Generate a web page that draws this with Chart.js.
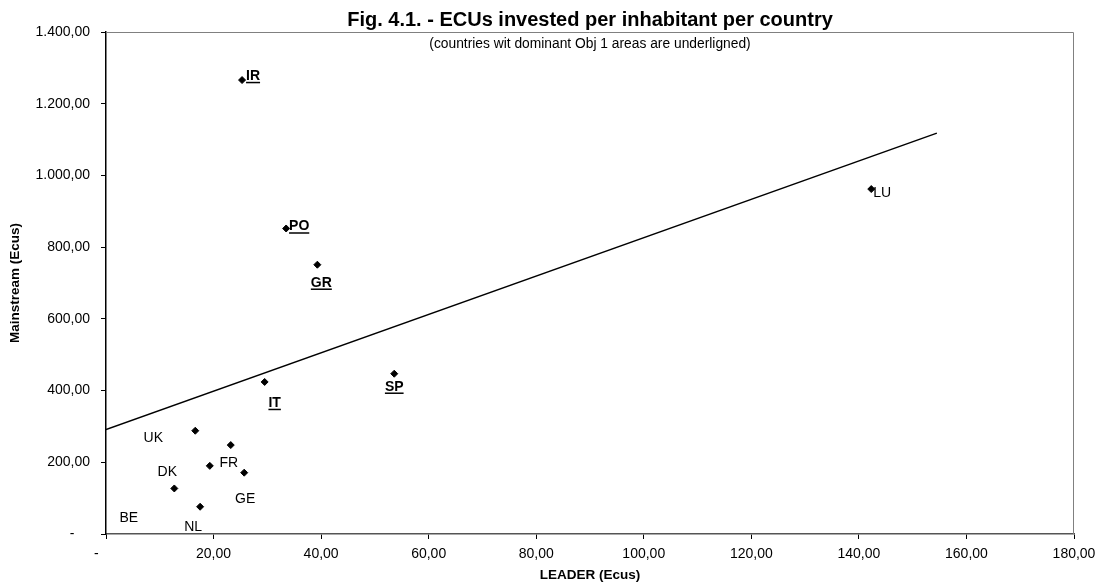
<!DOCTYPE html>
<html lang="en">
<head>
  <meta charset="UTF-8">
  <title>Fig. 4.1. - ECUs invested per inhabitant per country</title>
  <script src="https://cdn.jsdelivr.net/npm/chart.js"></script>
  <style>
    body {
      margin: 0;
      background: #fff;
    }
    #wrap {
      width: 1096px;
      height: 584px;
    }
  </style>
</head>
<body>
  <div id="wrap"><canvas id="ecuChart"></canvas></div>

  <script>
    // Data
    const countries  = ['IR', 'PO', 'GR', 'IT', 'SP', 'LU', 'UK', 'FR', 'BE', 'GE', 'DK', 'NL'];
    const leader     = [25.3, 33.5, 39.3, 29.5, 53.6, 142.3, 16.6, 23.2, 19.3, 25.7, 12.7, 17.5];
    const mainstream = [1266, 852, 751, 424, 447, 962, 288, 248, 190, 171, 127, 76];
    const obj1Countries = ['IR', 'PO', 'GR', 'IT', 'SP']; // underlined in the figure

    // linear trend line, end points as drawn
    const trendX = [0, 154.5];
    const trendY = [291, 1118];

    const xTickValues = [0, 20, 40, 60, 80, 100, 120, 140, 160, 180];
    const yTickValues = [0, 200, 400, 600, 800, 1000, 1200, 1400];

    // where each label sits relative to its marker (px)
    const labelOffsets = {
      IR: [11, -4], PO: [13, -2], GR: [4, 18], IT: [10, 21], SP: [0, 13], LU: [11, 4],
      UK: [-42, 7], FR: [-2, 18], BE: [-81, 52], GE: [1, 26], DK: [-7, -16], NL: [-7, 20]
    };

    const FONT = "'Liberation Sans', Arial, sans-serif";

    // 1.400,00 style
    function fmt(v) {
      const parts = v.toFixed(2).split('.');
      const intPart = parts[0].replace(/\B(?=(\d{3})+(?!\d))/g, '.');
      return intPart + ',' + parts[1];
    }

    const points = countries.map((c, i) => ({ x: leader[i], y: mainstream[i] }));
    const trend = trendX.map((x, i) => ({ x: x, y: trendY[i] }));

    // grey frame on top and right of the plot
    const framePlugin = {
      id: 'frame',
      beforeDatasetsDraw(chart) {
        const { ctx, chartArea: a } = chart;
        ctx.save();
        ctx.strokeStyle = '#808080';
        ctx.lineWidth = 1;
        ctx.beginPath();
        ctx.moveTo(a.left, a.top + 0.5);
        ctx.lineTo(a.right - 0.5, a.top + 0.5);
        ctx.lineTo(a.right - 0.5, a.bottom);
        ctx.stroke();
        ctx.restore();
      }
    };

    // title + subtitle centred over the plot area
    const titlePlugin = {
      id: 'figTitle',
      afterDraw(chart) {
        const { ctx, chartArea: a } = chart;
        const cx = (a.left + a.right) / 2;
        ctx.save();
        ctx.fillStyle = '#000';
        ctx.textAlign = 'center';
        ctx.textBaseline = 'alphabetic';
        ctx.font = 'bold 20px ' + FONT;
        ctx.fillText('Fig. 4.1. - ECUs invested per inhabitant per country', cx, 26);
        ctx.font = '13.8px ' + FONT;
        ctx.fillText('(countries wit dominant Obj 1 areas are underligned)', cx, 48);
        ctx.restore();
      }
    };

    // country codes next to the markers
    const labelPlugin = {
      id: 'countryLabels',
      afterDatasetsDraw(chart) {
        const { ctx } = chart;
        const meta = chart.getDatasetMeta(0);
        ctx.save();
        ctx.fillStyle = '#000';
        ctx.strokeStyle = '#000';
        ctx.textAlign = 'center';
        ctx.textBaseline = 'middle';
        meta.data.forEach((pt, i) => {
          const code = countries[i];
          const off = labelOffsets[code] || [8, 0];
          const x = pt.x + off[0];
          const y = pt.y + off[1];
          const isObj1 = obj1Countries.includes(code);
          ctx.font = (isObj1 ? 'bold ' : '') + '14px ' + FONT;
          ctx.fillText(code, x, y);
          if (isObj1) {
            const w = ctx.measureText(code).width;
            ctx.lineWidth = 1.5;
            ctx.beginPath();
            ctx.moveTo(x - w / 2, y + 6.5);
            ctx.lineTo(x + w / 2, y + 6.5);
            ctx.stroke();
          }
        });
        ctx.restore();
      }
    };

    const ctx = document.getElementById('ecuChart').getContext('2d');
    const ecuChart = new Chart(ctx, {
      type: 'scatter',
      data: {
        datasets: [{
          label: 'Countries',
          data: points,
          pointStyle: 'rectRot',
          pointRadius: 3.5,
          pointBackgroundColor: '#000',
          pointBorderColor: '#000',
          pointBorderWidth: 1,
          showLine: false
        }, {
          label: 'Trend',
          data: trend,
          showLine: true,
          borderColor: '#000',
          borderWidth: 1.5,
          pointRadius: 0,
          fill: false
        }]
      },
      options: {
        responsive: true,
        maintainAspectRatio: false,
        animation: false,
        layout: {
          padding: { top: 32, right: 22, left: 0, bottom: 0 }
        },
        plugins: {
          legend: { display: false },
          tooltip: { enabled: false }
        },
        scales: {
          x: {
            type: 'linear',
            min: 0,
            max: 180,
            afterBuildTicks(scale) {
              scale.ticks = xTickValues.map(v => ({ value: v }));
            },
            afterFit(scale) {
              scale.height = 50;
              scale.paddingRight = 0;
              scale.paddingLeft = 0;
            },
            ticks: {
              autoSkip: false,
              maxRotation: 0,
              padding: 7,
              color: '#000',
              font: { family: FONT, size: 14 },
              callback: v => v === 0 ? '-     ' : fmt(v)
            },
            grid: {
              drawOnChartArea: false,
              tickLength: 5,
              color: '#000'
            },
            border: { color: '#555', width: 1.5 },
            title: {
              display: true,
              text: 'LEADER (Ecus)',
              color: '#000',
              font: { family: FONT, size: 13.5, weight: 'bold' },
              padding: { top: 0, bottom: 1 }
            }
          },
          y: {
            type: 'linear',
            min: 0,
            max: 1400,
            afterBuildTicks(scale) {
              scale.ticks = yTickValues.map(v => ({ value: v }));
            },
            afterFit(scale) { scale.width = 106; },
            ticks: {
              autoSkip: false,
              padding: 11,
              color: '#000',
              font: { family: FONT, size: 14 },
              callback: v => v === 0 ? '-    ' : fmt(v)
            },
            grid: {
              drawOnChartArea: false,
              tickLength: 5,
              color: '#000'
            },
            border: { color: '#000', width: 1.5 },
            title: {
              display: true,
              text: 'Mainstream (Ecus)',
              color: '#000',
              font: { family: FONT, size: 13.5, weight: 'bold' },
              padding: { top: 7, bottom: 0 }
            }
          }
        }
      },
      plugins: [framePlugin, titlePlugin, labelPlugin]
    });
  </script>
</body>
</html>
